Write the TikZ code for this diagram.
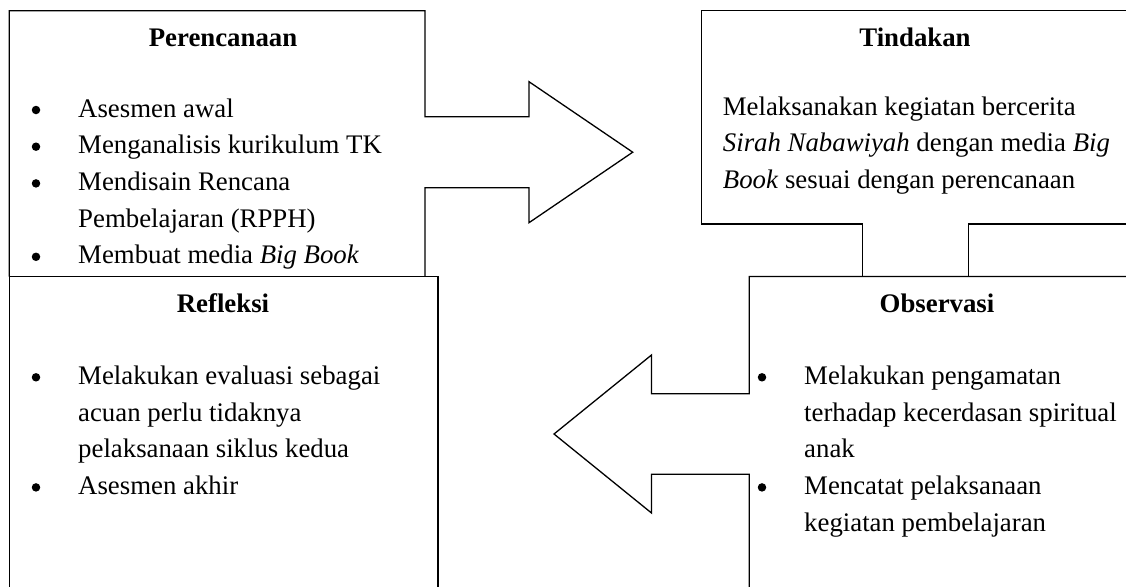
\documentclass[tikz,border=0pt]{standalone}
\usepackage{fontspec}
\setmainfont{Liberation Serif}
\begin{document}
\begin{tikzpicture}[x=1pt,y=-1pt,
  outline/.style={line width=1.3pt, line join=miter},
  txt/.style={inner sep=0pt, anchor=base west, font=\fontsize{26.8}{32}\selectfont},
  ttl/.style={inner sep=0pt, anchor=base, font=\fontsize{26.8}{32}\selectfont\bfseries},
  dot/.style={circle, fill=black, inner sep=0pt, minimum size=8.5pt}]
\clip (0,0) rectangle (1126,586);
\fill[white] (0,0) rectangle (1126,586);
% Perencanaan box with arrow to Tindakan
\draw[outline] (425,276.7) -- (425,187.7) -- (529,187.7) -- (529,222.7) -- (632.7,152.2)
  -- (529,81.7) -- (529,116.7) -- (425,116.7) -- (425,10.7) -- (9.3,10.7) -- (9.3,276.7);
% Refleksi box
\draw[outline] (9.3,600) -- (9.3,276.7) -- (438,276.7) -- (438,600);
% Tindakan box with shaft down to Observasi
\draw[outline] (862.3,276.5) -- (862.3,224) -- (701.7,224) -- (701.7,10.7) -- (1140,10.7);
\draw[outline] (968.7,276.5) -- (968.7,224) -- (1140,224);
% Observasi box with arrow to Refleksi
\draw[outline] (1140,276.5) -- (749.3,276.5) -- (749.3,393.7) -- (651.5,393.7) -- (651.5,355)
  -- (554,434) -- (651.5,513) -- (651.5,474.3) -- (749.3,474.3) -- (749.3,600);

% Perencanaan text
\node[ttl] (pT) at (223,46.5) {Perencanaan};
\node[dot] (pb1) at (36,110) {};
\node[txt] (p1) at (78,117) {Asesmen awal};
\node[dot] (pb2) at (36,146.7) {};
\node[txt] (p2) at (78,153.7) {Menganalisis kurikulum TK};
\node[dot] (pb3) at (36,183.4) {};
\node[txt] (p3) at (78,190.4) {Mendisain Rencana};
\node[txt] (p4) at (78,227.1) {Pembelajaran (RPPH)};
\node[dot] (pb5) at (36,256.8) {};
\node[txt] (p5) at (78,263.8) {Membuat media \textit{Big Book}};

% Tindakan text
\node[ttl] (tT) at (915,46.5) {Tindakan};
\node[txt] (t1) at (722.7,115) {Melaksanakan kegiatan bercerita};
\node[txt] (t2) at (722.7,151.7) {\textit{Sirah Nabawiyah} dengan media \textit{Big}};
\node[txt] (t3) at (722.7,188.4) {\textit{Book} sesuai dengan perencanaan};

% Refleksi text
\node[ttl] (rT) at (223,312) {Refleksi};
\node[dot] (rb1) at (36,377.3) {};
\node[txt] (r1) at (78,384.3) {Melakukan evaluasi sebagai};
\node[txt] (r2) at (78,421) {acuan perlu tidaknya};
\node[txt] (r3) at (78,457.7) {pelaksanaan siklus kedua};
\node[dot] (rb4) at (36,487.4) {};
\node[txt] (r4) at (78,494.4) {Asesmen akhir};

% Observasi text
\node[ttl] (oT) at (937,312) {Observasi};
\node[dot] (ob1) at (762,377.3) {};
\node[txt] (o1) at (804,384.3) {Melakukan pengamatan};
\node[txt] (o2) at (804,421) {terhadap kecerdasan spiritual};
\node[txt] (o3) at (804,457.7) {anak};
\node[dot] (ob4) at (762,487.4) {};
\node[txt] (o4) at (804,494.4) {Mencatat pelaksanaan};
\node[txt] (o5) at (804,531.1) {kegiatan pembelajaran};
\end{tikzpicture}
\end{document}
